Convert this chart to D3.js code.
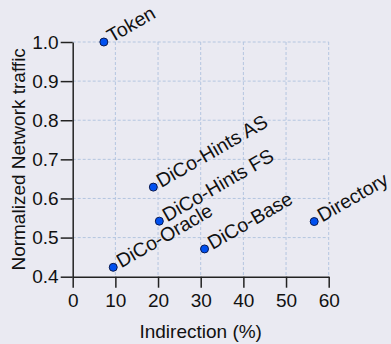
<!DOCTYPE html>
<html><head><meta charset="utf-8">
<script src="https://cdn.jsdelivr.net/npm/d3@7"></script>
<style>
html,body{margin:0;padding:0;background:#eaeaf2;}
svg{display:block;}
text{font-family:"Liberation Sans",Arial,Helvetica,sans-serif;fill:#111;}
</style></head>
<body><svg id="c" width="391" height="344"></svg>
<script>
const names = ["Token","DiCo-Hints AS","DiCo-Hints FS","DiCo-Oracle","DiCo-Base","Directory"];
const indirection = [7.3, 18.9, 20.3, 9.5, 30.9, 56.6];
const traffic = [1.0, 0.629, 0.542, 0.424, 0.471, 0.541];
const xTicks = [0,10,20,30,40,50,60];
const yTicks = [0.4,0.5,0.6,0.7,0.8,0.9,1.0];

const svg = d3.select("#c");
const L = 72.7, R = 328.7, T = 42, B = 276.7;
const x = d3.scaleLinear().domain([0,60]).range([L,R]);
const y = d3.scaleLinear().domain([0.4,1.0]).range([B,T]);

svg.append("rect").attr("width",391).attr("height",344).attr("fill","#eaeaf2");

// grid
const g = svg.append("g");
g.selectAll(".gx").data(xTicks.slice(1)).join("line")
  .attr("x1",d=>x(d)).attr("x2",d=>x(d)).attr("y1",T).attr("y2",B)
  .attr("stroke","#b4c6e0").attr("stroke-width",1).attr("stroke-dasharray","3,2");
g.selectAll(".gy").data(yTicks.slice(1)).join("line")
  .attr("y1",d=>y(d)).attr("y2",d=>y(d)).attr("x1",L).attr("x2",R)
  .attr("stroke","#b4c6e0").attr("stroke-width",1).attr("stroke-dasharray","3,2");

// axes
const xa = svg.append("g").attr("transform",`translate(0,${B})`)
  .call(d3.axisBottom(x).tickValues(xTicks).tickFormat(d3.format("d")).tickSize(11).tickSizeOuter(0).tickPadding(6));
const ya = svg.append("g").attr("transform",`translate(${L},0)`)
  .call(d3.axisLeft(y).tickValues(yTicks).tickFormat(d3.format(".1f")).tickSize(12).tickSizeOuter(0).tickPadding(2));
[xa,ya].forEach(a=>{
  a.select(".domain").attr("stroke","#222").attr("stroke-width",1.5);
  a.selectAll(".tick line").attr("stroke","#222").attr("stroke-width",1.5);
  a.selectAll(".tick text").attr("font-size",19).attr("fill","#111")
   .attr("font-family","'Liberation Sans',Arial,sans-serif");
});

// titles
svg.append("text").attr("x",(L+R)/2).attr("y",338).attr("text-anchor","middle")
  .attr("font-size",19).text("Indirection (%)");
svg.append("text").attr("transform",`translate(25,${(T+B)/2}) rotate(-90)`)
  .attr("text-anchor","middle").attr("font-size",19).text("Normalized Network traffic");

// points
const data = names.map((n,i)=>({n, xv:indirection[i], yv:traffic[i]}));
svg.selectAll(".pt").data(data).join("circle")
  .attr("cx",d=>x(d.xv)).attr("cy",d=>y(d.yv)).attr("r",4)
  .attr("fill","#0050f0").attr("stroke","#0a1a50").attr("stroke-width",1);
svg.selectAll(".lb").data(data).join("text")
  .attr("transform",d=>`translate(${x(d.xv)+8},${y(d.yv)+1}) rotate(-30)`)
  .attr("font-size",19.5).text(d=>d.n);
</script></body></html>
